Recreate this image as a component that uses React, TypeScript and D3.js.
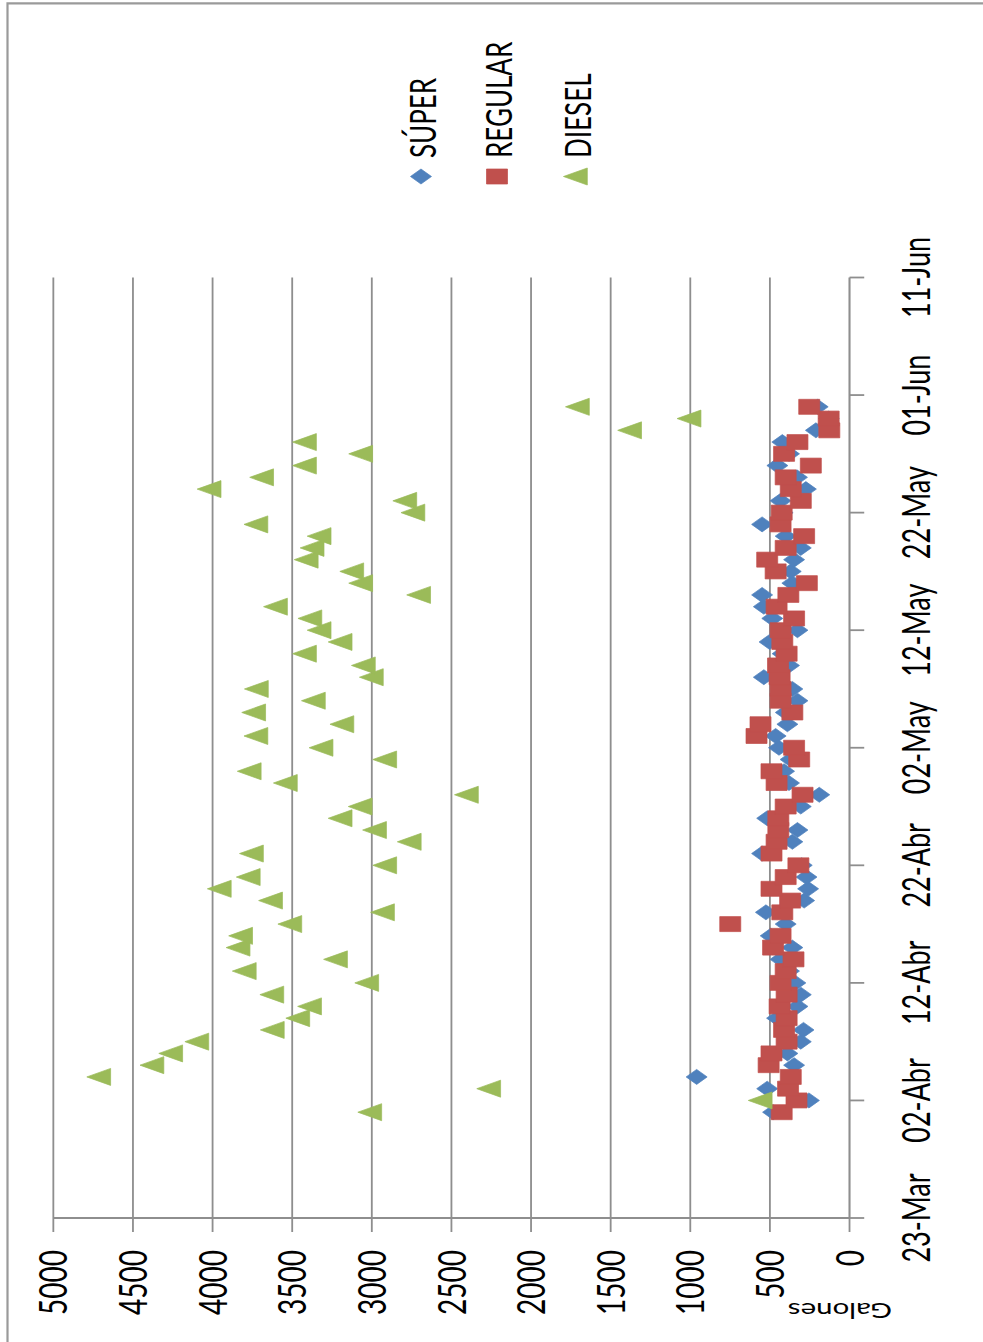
import React from 'react';
import * as d3 from 'd3';

// Daily readings, 01-Abr through 31-May
const firstDay = new Date(Date.UTC(2011, 3, 1));
const lastDayExclusive = new Date(Date.UTC(2011, 5, 1));

// Axis extent (dates) and value ticks
const axisStart = new Date(Date.UTC(2011, 2, 23));
const axisEnd = new Date(Date.UTC(2011, 5, 11));
const valueTicks = [0, 500, 1000, 1500, 2000, 2500, 3000, 3500, 4000, 4500, 5000];
const monthLabels = ['Ene', 'Feb', 'Mar', 'Abr', 'May', 'Jun', 'Jul', 'Ago', 'Sep', 'Oct', 'Nov', 'Dic'];

const seriesNames = ['SÚPER', 'REGULAR', 'DIESEL'];
const seriesColors = ['#4F81BD', '#C0504D', '#9BBB59'];

const superVals = [
  480, 255, 517, 960, 348, 390, 306, 289, 455, 327,
  306, 340, 380, 433, 359, 495, 401, 525, 285, 260,
  270, 300, 549, 359, 327, 517, 306, 190, 380, 411,
  370, 443, 464, 390, 400, 327, 359, 538, 380, 420,
  502, 327, 485, 538, 549, 359, 369, 348, 306, 401,
  549, 420, 433, 274, 330, 453, 380, 422, 211, 130,
  200,
];

const regularVals = [
  426, 333, 386, 369, 508, 490, 395, 411, 395, 439,
  395, 433, 401, 352, 480, 433, 749, 422, 373, 490,
  401, 321, 490, 458, 447, 447, 401, 295, 458, 490,
  316, 348, 584, 559, 359, 433, 433, 439, 449, 395,
  422, 433, 348, 458, 384, 268, 464, 517, 401, 285,
  433, 426, 306, 369, 401, 243, 411, 327, 127, 131,
  253,
];

const dieselVals = [
  3013, 561, 2266, 4715, 4381, 4263, 4099, 3625, 3465, 3391,
  3628, 3032, 3801, 3228, 3840, 3824, 3515, 2933, 3636, 3958,
  3776, 2919, 3756, 2765, 2983, 3199, 3073, 2406, 3543, 3770,
  2919, 3319, 3728, 3188, 3742, 3367, 3725, 3003, 3053, 3423,
  3199, 3331, 3389, 3605, 2706, 3070, 3126, 3412, 3375, 3331,
  3728, 2742, 2793, 4022, 3692, 3423, 3070, 3423, 1381, 1008,
  1709,
];

// The chart is laid out in its own frame (dates across, gallons up) and then
// turned a quarter turn counter-clockwise and widened along the value direction.
const SX = 1.4;
const PAGE_W = 983;
const PAGE_H = 1342;

const PLOT_LEFT = 124;
const PLOT_RIGHT = 1064.5;
const PLOT_TOP = 38.1;
const PLOT_BOTTOM = 606.8;

const FONT = 'Lato, "Open Sans", "DejaVu Sans", sans-serif';
const GRID = '#8e8e8e';

const fmtDate = (d: Date) =>
  `${String(d.getUTCDate()).padStart(2, '0')}-${monthLabels[d.getUTCMonth()]}`;

function marker(kind: number, size: number): string {
  const h = size / 2;
  if (kind === 0) return `M0,${-h}L${h},0L0,${h}L${-h},0Z`;
  if (kind === 1) return `M${-h},${-h}H${h}V${h}H${-h}Z`;
  return `M0,${-h}L${h},${h}L${-h},${h}Z`;
}

const markerSizes = [15, 15, 17];

export default function App() {
  const days = d3.utcDay.range(firstDay, lastDayExclusive);
  const dateTicks = d3.utcDay.range(axisStart, d3.utcDay.offset(axisEnd, 1), 10);

  const x = d3.scaleUtc().domain([axisStart, axisEnd]).range([PLOT_LEFT, PLOT_RIGHT]);
  const y = d3.scaleLinear().domain([0, 5000]).range([PLOT_BOTTOM, PLOT_TOP]);

  const series = [superVals, regularVals, dieselVals];

  const legendU = 1165.5;
  const legendV = [300.7, 355, 411];

  return (
    <svg
      width={PAGE_W}
      height={PAGE_H}
      style={{ position: 'absolute', left: 0, top: 0, display: 'block' }}
    >
      <rect width={PAGE_W} height={PAGE_H} fill="#ffffff" />
      <g transform={`matrix(0,-1,${SX},0,0,${PAGE_H})`} fontFamily={FONT}>
        {/* horizontal gridlines */}
        {valueTicks
          .filter((t) => t !== 0)
          .map((t) => (
            <line
              key={`g${t}`}
              x1={PLOT_LEFT}
              x2={PLOT_RIGHT}
              y1={y(t)}
              y2={y(t)}
              stroke={GRID}
              strokeWidth={1.3}
            />
          ))}

        {/* value axis */}
        <line x1={PLOT_LEFT} x2={PLOT_LEFT} y1={PLOT_TOP} y2={PLOT_BOTTOM} stroke={GRID} strokeWidth={2.2} />
        {valueTicks.map((t) => (
          <line key={`vt${t}`} x1={PLOT_LEFT - 14} x2={PLOT_LEFT} y1={y(t)} y2={y(t)} stroke={GRID} strokeWidth={1.3} />
        ))}
        {valueTicks.map((t) => (
          <text
            key={`vl${t}`}
            x={92}
            y={y(t)}
            dy="0.36em"
            textAnchor="end"
            fontSize={28}
            fill="#000"
          >
            {t}
          </text>
        ))}

        {/* date axis */}
        <line x1={PLOT_LEFT} x2={PLOT_RIGHT} y1={PLOT_BOTTOM} y2={PLOT_BOTTOM} stroke={GRID} strokeWidth={1.5} />
        {dateTicks.map((d) => (
          <line
            key={`dt${+d}`}
            x1={x(d)}
            x2={x(d)}
            y1={PLOT_BOTTOM}
            y2={PLOT_BOTTOM + 10.5}
            stroke={GRID}
            strokeWidth={1.8}
          />
        ))}
        {dateTicks.map((d) => (
          <text key={`dl${+d}`} x={x(d)} y={664} textAnchor="middle" fontSize={27} fill="#000">
            {fmtDate(d)}
          </text>
        ))}

        {/* axis title */}
        <text transform="translate(39.3,600) rotate(-90)" textAnchor="middle" fontSize={21} fill="#000">
          Galones
        </text>

        {/* data points */}
        {series.map((vals, si) => (
          <g key={`s${si}`}>
            {vals.map((v, i) => (
              <path
                key={i}
                d={marker(si, markerSizes[si])}
                transform={`translate(${x(days[i])},${y(v)})`}
                fill={seriesColors[si]}
                stroke={seriesColors[si]}
                strokeWidth={0.6}
              />
            ))}
          </g>
        ))}

        {/* legend */}
        {seriesNames.map((name, si) => (
          <g key={`l${si}`}>
            <path
              d={marker(si, markerSizes[si])}
              transform={`translate(${legendU},${legendV[si]})`}
              fill={seriesColors[si]}
              stroke={seriesColors[si]}
              strokeWidth={0.6}
            />
            <text x={1184} y={legendV[si] + 11} fontSize={26} fill="#000">
              {name}
            </text>
          </g>
        ))}
      </g>

      {/* chart area border */}
      <path d={`M7.5,${PAGE_H} V3.3 H${PAGE_W}`} fill="none" stroke="#9a9a9a" strokeWidth={2.2} />
    </svg>
  );
}
